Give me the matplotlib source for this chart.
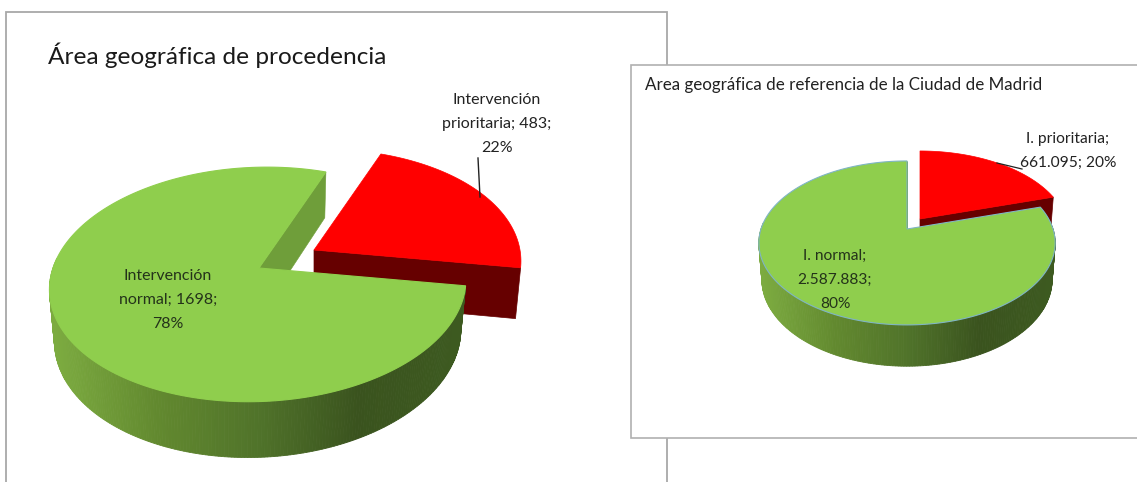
import numpy as np
import matplotlib
matplotlib.use('Agg')
import matplotlib.pyplot as plt
from matplotlib.colors import LinearSegmentedColormap
from matplotlib.patches import Polygon, Rectangle

plt.rcParams['font.family'] = ['Lato', 'DejaVu Sans']

# data
title_left = 'Área geográfica de procedencia'
title_right = 'Area geográfica de referencia de la Ciudad de Madrid'
labels_left = ['Intervención\nnormal; 1698;\n78%', 'Intervención\nprioritaria; 483;\n22%']
labels_right = ['I. normal;\n2.587.883;\n80%', 'I. prioritaria;\n661.095; 20%']
values_left = [1698, 483]
values_right = [2587883, 661095]

GREEN = '#8fce4d'
RED = '#ff0000'
DARK_RED = '#660000'
INNER = '#6f9e3a'
wall_cmap = LinearSegmentedColormap.from_list(
    'wall', ['#7cab40', '#62892f', '#50732a', '#3a531e', '#3d5a20'])


def project(t, g, top=True):
    # circle seen in perspective, t in degrees
    t = np.radians(t)
    if top:
        r, a, cy = g['r'], g['a'], g['cy']
    else:
        r, a, cy = g['r_b'], g['a_b'], g['cy_b']
    w = 1 + g['p'] * np.sin(t)
    y = -a * np.sin(t) / w
    x = r * np.cos(t) / w - g['shear'] * y
    return g['cx'] + x, cy + y


def point(t, g, top=True):
    return np.array(project(np.array([t]), g, top)).ravel()


def draw_pie(ax, values, g, edge=None, dz=0):
    sweep = 360.0 * values[0] / sum(values)
    t0 = g['start']
    t1 = t0 + sweep
    off = np.array(g['explode'])
    c_top = np.array([g['cx'], g['cy']])
    c_bot = np.array([g['cx'], g['cy_b']])

    # exploded slice: cut face first, then its top
    face = np.array([c_top, point(t1, g), point(t1, g, False), c_bot]) + off
    ax.add_patch(Polygon(face, fc=DARK_RED, ec=DARK_RED, lw=0.5, zorder=2 + dz))
    tr = np.linspace(t1, t0 + 360, 80)
    arc = np.column_stack(project(tr, g)) + off
    ax.add_patch(Polygon(np.vstack([c_top + off, arc]), fc=RED, ec=RED, lw=0.5, zorder=3 + dz))

    # big slice: outer wall as thin strips, coloured along x
    ts = np.linspace(175, t1, 220)
    xt, yt = project(ts, g)
    xb, yb = project(ts, g, False)
    xmin, xmax = xb.min(), xb.max()
    for i in range(len(ts) - 1):
        q = [(xt[i], yt[i]), (xt[i + 1], yt[i + 1]), (xb[i + 1], yb[i + 1]), (xb[i], yb[i])]
        col = wall_cmap(np.clip((xt[i] - xmin) / (xmax - xmin), 0, 1))
        ax.add_patch(Polygon(q, fc=col, ec=col, lw=0.6, zorder=4 + dz))

    # inner cut face seen behind the gap
    ax.add_patch(Polygon([c_top, point(t0, g), point(t0, g, False), c_bot],
                         fc=INNER, ec=INNER, lw=0.4, zorder=5 + dz))

    # top of big slice
    tg = np.linspace(t0, t1, 200)
    arc = np.column_stack(project(tg, g))
    ax.add_patch(Polygon(np.vstack([c_top, arc]), fc=GREEN,
                         ec=edge if edge else GREEN, lw=0.8, zorder=6 + dz))


fig = plt.figure(figsize=(11.37, 4.82), dpi=100)
ax = fig.add_axes([0, 0, 1, 1])
ax.set_xlim(0, 1137)
ax.set_ylim(482, 0)
ax.axis('off')

# left panel
ax.add_patch(Rectangle((6, 12), 661, 490, fc='white', ec='#a8a8a8', lw=1.3, zorder=1))
left = dict(cx=259, cy=268, r=206, a=115, p=0.14, shear=0.08,
            r_b=201, a_b=120, cy_b=318, start=71, explode=(55, -18))
draw_pie(ax, values_left, left)
ax.plot([480, 478], [197, 158], color='#222222', lw=1, zorder=7)

ax.text(48, 55, title_left, fontsize=17.6, color='#1a1a1a', ha='left', va='center', zorder=8)
ax.text(168, 300, labels_left[0], fontsize=11.5, color='#24331a', ha='center', va='center',
        linespacing=1.95, zorder=8)
ax.text(497, 124, labels_left[1], fontsize=11.5, color='#222222', ha='center', va='center',
        linespacing=1.95, zorder=8)

# right panel
ax.add_patch(Rectangle((631, 65), 530, 373, fc='white', ec='#b0b0b0', lw=1.2, zorder=20))
right = dict(cx=907, cy=229, r=146, a=79.6, p=0.17, shear=0.0,
             r_b=143, a_b=84, cy_b=265, start=90, explode=(13, -10))
draw_pie(ax, values_right, right, edge='#7fb5c4', dz=20)
ax.plot([997, 1022], [163, 169], color='#222222', lw=0.9, zorder=27)

ax.text(645, 85, title_right, fontsize=12.25, color='#222222', ha='left', va='center', zorder=28)
ax.text(835, 280, labels_right[0], fontsize=11.2, color='#24331a', ha='center', va='center',
        linespacing=1.9, zorder=28)
ax.text(1068, 151, labels_right[1], fontsize=11.2, color='#222222', ha='center', va='center',
        linespacing=1.9, zorder=28)

fig.savefig('out.png', dpi=100)
